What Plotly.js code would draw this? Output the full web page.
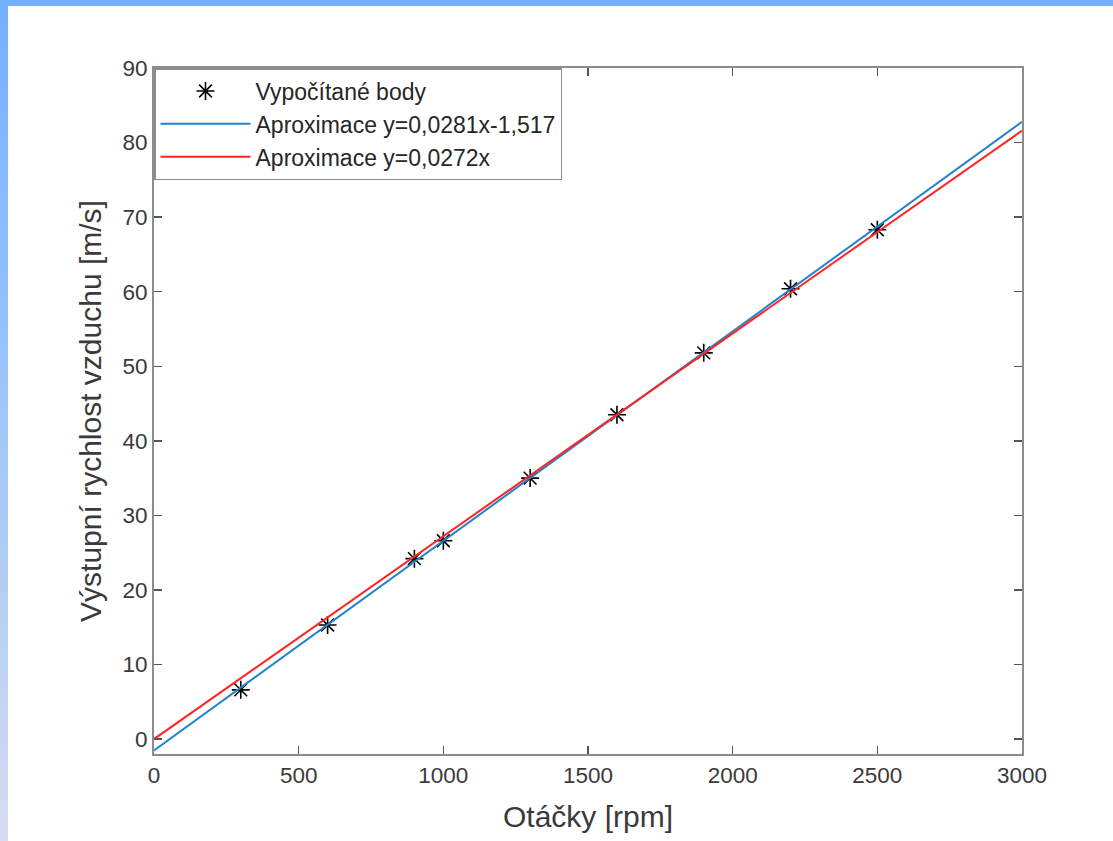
<!DOCTYPE html>
<html>
<head>
<meta charset="utf-8">
<script src="https://cdn.plot.ly/plotly-3.0.1.min.js"></script>
<style>
  html, body { margin: 0; padding: 0; background: #ffffff; }
  #wrap { position: relative; width: 1113px; height: 841px; overflow: hidden; }
  #chart { position: absolute; left: 0; top: 0; width: 1113px; height: 841px; }
  #bandTop { position: absolute; left: 0; top: 0; width: 1113px; height: 6px; background: #74b0ff; pointer-events: none; }
  #bandLeft { position: absolute; left: 0; top: 0; width: 8px; height: 841px;
    background: linear-gradient(to bottom, #74b0ff 0%, #92c0ff 35%, #b4cff2 70%, #d8dcf2 100%); pointer-events: none; }
</style>
</head>
<body>
<div id="wrap">
  <div id="chart"></div>
  <div id="bandTop"></div>
  <div id="bandLeft"></div>
</div>
<script>
// Measured points (rpm -> outlet air speed m/s)
const rpm = [300, 600, 900, 1000, 1300, 1600, 1900, 2200, 2500];
const speed = [6.6, 15.3, 24.2, 26.6, 35.0, 43.5, 51.8, 60.4, 68.3];

// Fit line endpoints
const fitX = [0, 3000];
const fitBlueY = [-1.517, 82.783];
const fitRedY = [0, 81.6];

const xTicks = [0, 500, 1000, 1500, 2000, 2500, 3000];
const yTicks = [0, 10, 20, 30, 40, 50, 60, 70, 80, 90];

const names = ["Vypočítané body", "Aproximace y=0,0281x-1,517", "Aproximace y=0,0272x"];

const FONT = "Liberation Sans, Arial, Helvetica, sans-serif";

const traces = [
  {
    x: rpm, y: speed, type: "scatter", mode: "markers", name: names[0],
    marker: { symbol: "asterisk-open", size: 15, color: "#000000", line: { color: "#000000", width: 1.6 } }
  },
  {
    x: fitX, y: fitBlueY, type: "scatter", mode: "lines", name: names[1],
    line: { color: "#2183cc", width: 2 }
  },
  {
    x: fitX, y: fitRedY, type: "scatter", mode: "lines", name: names[2],
    line: { color: "#ff2424", width: 2 }
  }
];

const axisCommon = {
  showgrid: false, zeroline: false,
  showline: true, linecolor: "#8c8c8c", linewidth: 2,
  mirror: "ticks", ticks: "inside", ticklen: 8, tickwidth: 1.5, tickcolor: "#555555",
  tickfont: { family: FONT, size: 22.5, color: "#3a3a3a" }
};

const layout = {
  width: 1113, height: 841,
  paper_bgcolor: "#ffffff", plot_bgcolor: "#ffffff",
  margin: { l: 154, r: 91, t: 68, b: 87, pad: 0 },
  showlegend: true,
  legend: {
    x: 0, y: 1, xanchor: "left", yanchor: "top",
    bgcolor: "#ffffff", bordercolor: "#8c8c8c", borderwidth: 1.5,
    font: { family: FONT, size: 23, color: "#262626" },
    itemwidth: 90, tracegroupgap: 0
  },
  xaxis: Object.assign({}, axisCommon, {
    range: [0, 3000], tickvals: xTicks, ticktext: xTicks.map(String),
    title: { text: "Otáčky [rpm]", font: { family: FONT, size: 30, color: "#3a3a3a" }, standoff: 19 }
  }),
  yaxis: Object.assign({}, axisCommon, {
    range: [-2, 90], tickvals: yTicks, ticktext: yTicks.map(String),
    title: { text: "Výstupní rychlost vzduchu [m/s]", font: { family: FONT, size: 30, color: "#3a3a3a" }, standoff: 12 }
  })
};

Plotly.newPlot("chart", traces, layout, { displayModeBar: false, staticPlot: true });
</script>
</body>
</html>
